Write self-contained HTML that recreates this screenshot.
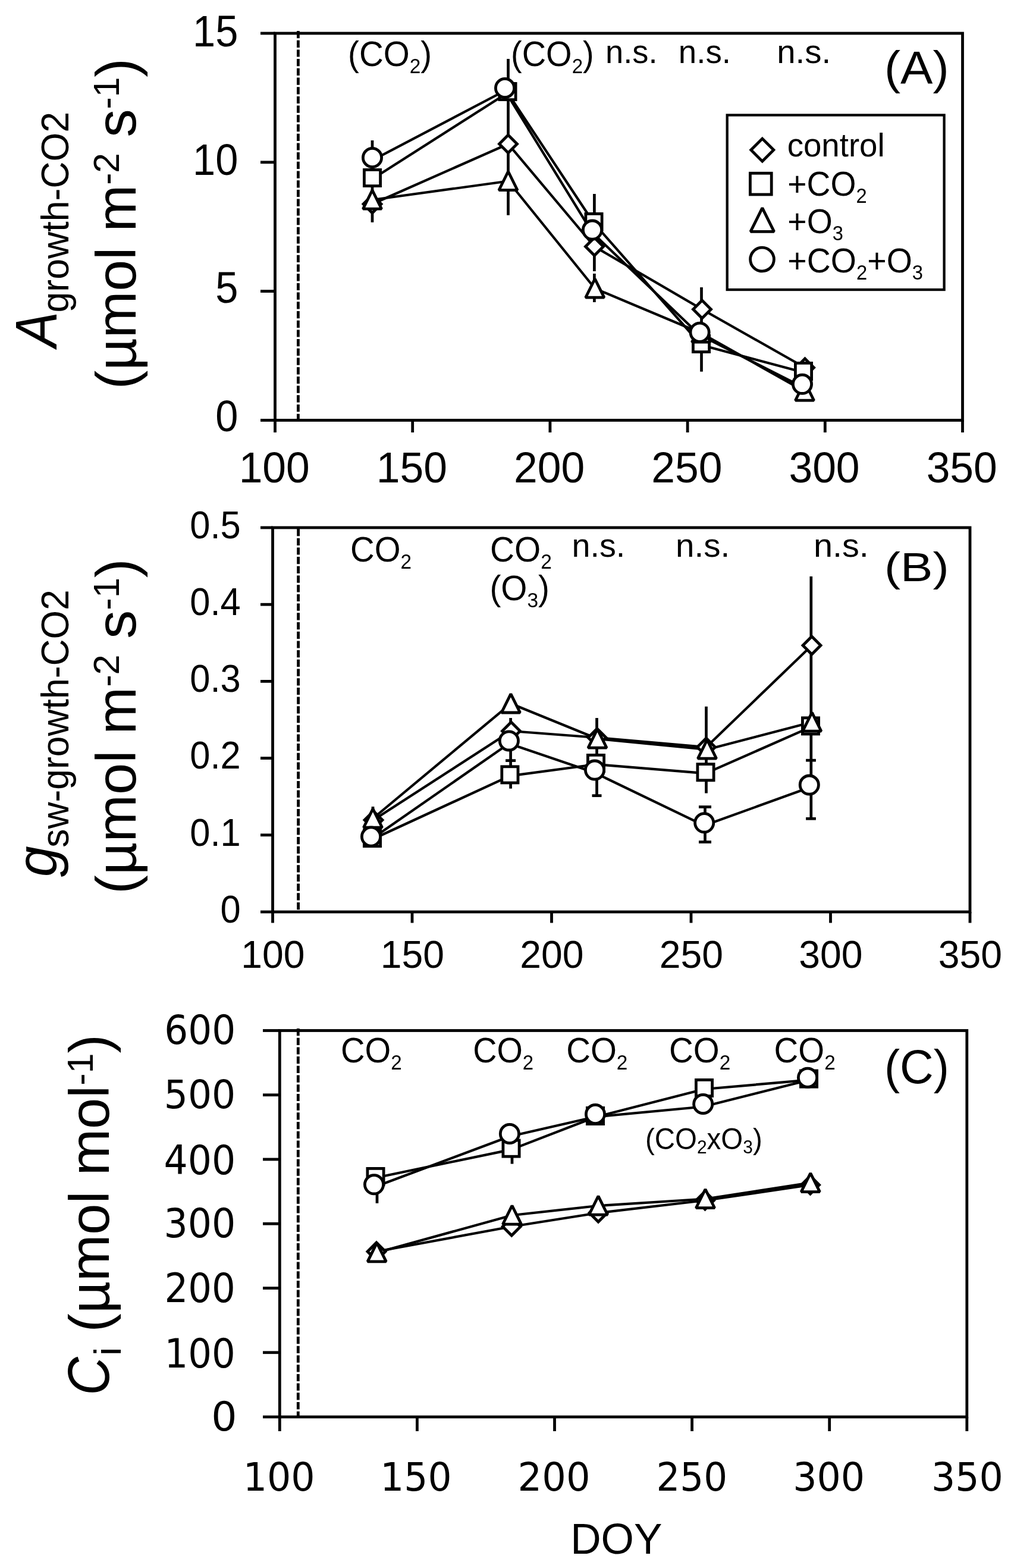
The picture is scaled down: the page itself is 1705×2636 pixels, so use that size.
<!DOCTYPE html>
<html><head><meta charset="utf-8"><title>Figure</title>
<style>
html,body{margin:0;padding:0;background:#fff;}
svg{display:block;}
text{font-family:"Liberation Sans",Arial,sans-serif;fill:#000;stroke:none;font-kerning:none;}
.m{fill:#fff;stroke:#000;}
</style></head><body>
<svg width="1705" height="2636" viewBox="0 0 1705 2636">
<rect width="1705" height="2636" fill="#fff"/>
<g stroke="#000" stroke-linecap="butt" fill="none">
<rect x="462.5" y="56" width="1156" height="650.5" fill="none" stroke-width="4.8"/>
<line x1="438" y1="56" x2="462.5" y2="56" stroke-width="4.8"/>
<line x1="438" y1="272.8" x2="462.5" y2="272.8" stroke-width="4.8"/>
<line x1="438" y1="489.6" x2="462.5" y2="489.6" stroke-width="4.8"/>
<line x1="438" y1="706.5" x2="462.5" y2="706.5" stroke-width="4.8"/>
<line x1="462.5" y1="706.5" x2="462.5" y2="727" stroke-width="4.8"/>
<line x1="693.7" y1="706.5" x2="693.7" y2="727" stroke-width="4.8"/>
<line x1="924.9" y1="706.5" x2="924.9" y2="727" stroke-width="4.8"/>
<line x1="1156.1" y1="706.5" x2="1156.1" y2="727" stroke-width="4.8"/>
<line x1="1387.3" y1="706.5" x2="1387.3" y2="727" stroke-width="4.8"/>
<line x1="1618.5" y1="706.5" x2="1618.5" y2="727" stroke-width="4.8"/>
<line x1="501.4" y1="52" x2="501.4" y2="706.5" stroke-width="4.8" stroke-dasharray="12.2 3.5"/>
<text transform="translate(324.09 78.2) scale(0.9360 1)" font-size="73.3">15</text>
<text transform="translate(324.09 293.9) scale(0.9360 1)" font-size="73.3">10</text>
<text transform="translate(362.24 509.2) scale(0.9360 1)" font-size="73.3">5</text>
<text transform="translate(362.24 725.3) scale(0.9360 1)" font-size="73.3">0</text>
<text transform="translate(401.64 811) scale(0.9780 1)" font-size="73">100</text>
<text transform="translate(632.84 811) scale(0.9780 1)" font-size="73">150</text>
<text transform="translate(864.04 811) scale(0.9780 1)" font-size="73">200</text>
<text transform="translate(1095.24 811) scale(0.9780 1)" font-size="73">250</text>
<text transform="translate(1326.44 811) scale(0.9780 1)" font-size="73">300</text>
<text transform="translate(1557.64 811) scale(0.9780 1)" font-size="73">350</text>
<text transform="translate(585.09 110.6) scale(0.9541 1)"><tspan font-size="59.3">(CO</tspan><tspan font-size="34.99" dy="12">2</tspan><tspan font-size="59.3" dy="-12">)</tspan></text>
<text transform="translate(859.03 110.6) scale(0.9442 1)"><tspan font-size="59.3">(CO</tspan><tspan font-size="34.99" dy="12">2</tspan><tspan font-size="59.3" dy="-12">)</tspan></text>
<text transform="translate(1017.99 106.05) scale(0.9664 1)" font-size="56.22">n.s.</text>
<text transform="translate(1140.87 106.05) scale(0.9725 1)" font-size="56.22">n.s.</text>
<text transform="translate(1306.26 106.05) scale(1.0031 1)" font-size="56.22">n.s.</text>
<text transform="translate(1486.94 141.2) scale(1.0456 1)"><tspan font-size="78">(A)</tspan></text>
<polyline points="626,343 854.5,242 999.5,414.5 1180.5,520 1353.5,618" fill="none" stroke-width="4.2" stroke-linejoin="round"/>
<polyline points="626,301 853.5,156 998.5,375 1179,580 1351,626" fill="none" stroke-width="4.2" stroke-linejoin="round"/>
<polyline points="626,336 854.5,304.5 1000.3,485 1179,560 1353,658" fill="none" stroke-width="4.2" stroke-linejoin="round"/>
<polyline points="626,269.5 849,152.5 996,391.1 1176.6,563.2 1349,650.3" fill="none" stroke-width="4.2" stroke-linejoin="round"/>
<line x1="626" y1="236" x2="626" y2="373.8" stroke-width="4.7"/>
<line x1="854.5" y1="99" x2="854.5" y2="361.8" stroke-width="4.7"/>
<line x1="999.4" y1="326" x2="999.4" y2="456" stroke-width="4.7"/>
<line x1="999.4" y1="460" x2="999.4" y2="508" stroke-width="4.7"/>
<line x1="1179.5" y1="482.9" x2="1179.5" y2="624.7" stroke-width="4.7"/>
<path d="M626 328L641 343L626 358L611 343Z" stroke-width="4.8" class="m"/>
<path d="M854.5 227L869.5 242L854.5 257L839.5 242Z" stroke-width="4.8" class="m"/>
<path d="M999.5 399.5L1014.5 414.5L999.5 429.5L984.5 414.5Z" stroke-width="4.8" class="m"/>
<path d="M1180.5 505L1195.5 520L1180.5 535L1165.5 520Z" stroke-width="4.8" class="m"/>
<path d="M1353.5 603L1368.5 618L1353.5 633L1338.5 618Z" stroke-width="4.8" class="m"/>
<rect x="612.4" y="285.4" width="27.2" height="27.2" stroke-width="4.8" class="m"/>
<rect x="839.9" y="140.4" width="27.2" height="27.2" stroke-width="4.8" class="m"/>
<rect x="984.9" y="359.4" width="27.2" height="27.2" stroke-width="4.8" class="m"/>
<rect x="1165.4" y="564.4" width="27.2" height="27.2" stroke-width="4.8" class="m"/>
<rect x="1337.4" y="610.4" width="27.2" height="27.2" stroke-width="4.8" class="m"/>
<path d="M626 319.8L641.6 351.2L610.4 351.2Z" stroke-width="4.8" stroke-linejoin="bevel" class="m"/>
<path d="M854.5 288.3L870.1 319.7L838.9 319.7Z" stroke-width="4.8" stroke-linejoin="bevel" class="m"/>
<path d="M1000.3 468.8L1015.9 500.2L984.7 500.2Z" stroke-width="4.8" stroke-linejoin="bevel" class="m"/>
<path d="M1179 543.8L1194.6 575.2L1163.4 575.2Z" stroke-width="4.8" stroke-linejoin="bevel" class="m"/>
<path d="M1353 641.8L1368.6 673.2L1337.4 673.2Z" stroke-width="4.8" stroke-linejoin="bevel" class="m"/>
<circle cx="626" cy="265" r="15.6" stroke-width="4.8" class="m"/>
<circle cx="849" cy="148" r="15.6" stroke-width="4.8" class="m"/>
<circle cx="996" cy="386.6" r="15.6" stroke-width="4.8" class="m"/>
<circle cx="1176.6" cy="558.7" r="15.6" stroke-width="4.8" class="m"/>
<circle cx="1349" cy="645.8" r="15.6" stroke-width="4.8" class="m"/>
<rect x="1222.7" y="193.5" width="364.9" height="293.5" fill="none" stroke-width="4.3"/>
<path d="M1281.8 233.1L1300.8 252.1L1281.8 271.1L1262.8 252.1Z" stroke-width="4.8" class="m"/>
<rect x="1261.4" y="291.2" width="35.8" height="35.8" stroke-width="4.8" class="m"/>
<path d="M1281.8 349.6L1301.6 389.4L1262 389.4Z" stroke-width="4.8" stroke-linejoin="bevel" class="m"/>
<circle cx="1281.5" cy="436" r="19.9" stroke-width="4.8" class="m"/>
<text transform="translate(1323.68 263.17) scale(1.0005 1)" font-size="54.6">control</text>
<text transform="translate(1324.3 328.8) scale(0.9531 1)"><tspan font-size="58">+CO</tspan><tspan font-size="34.22" dy="12">2</tspan></text>
<text transform="translate(1324.29 391.8) scale(0.9554 1)"><tspan font-size="58">+O</tspan><tspan font-size="34.22" dy="12">3</tspan></text>
<text transform="translate(1324.29 457.9) scale(0.9573 1)"><tspan font-size="58">+CO</tspan><tspan font-size="34.22" dy="12">2</tspan><tspan font-size="58" dy="-12">+O</tspan><tspan font-size="34.22" dy="12">3</tspan></text>
<text transform="translate(95.2 583.68) rotate(-90) scale(0.9074 1)"><tspan font-size="98.8" font-style="italic">A</tspan></text>
<text transform="translate(115.4 525.53) rotate(-90) scale(0.9567 1)"><tspan font-size="65.5">growth-CO2</tspan></text>
<text transform="translate(228 654.16) rotate(-90) scale(0.9953 1)"><tspan font-size="95">(µmol m</tspan><tspan font-size="60.8" dy="-27.6">-2</tspan><tspan font-size="95" dy="27.6"> s</tspan><tspan font-size="60.8" dy="-27.6">-1</tspan><tspan font-size="95" dy="27.6">)</tspan></text>
<rect x="458.5" y="887" width="1172.5" height="646" fill="none" stroke-width="4.8"/>
<line x1="438" y1="887" x2="458.5" y2="887" stroke-width="4.8"/>
<line x1="438" y1="1016.2" x2="458.5" y2="1016.2" stroke-width="4.8"/>
<line x1="438" y1="1145.4" x2="458.5" y2="1145.4" stroke-width="4.8"/>
<line x1="438" y1="1274.6" x2="458.5" y2="1274.6" stroke-width="4.8"/>
<line x1="438" y1="1403.8" x2="458.5" y2="1403.8" stroke-width="4.8"/>
<line x1="438" y1="1533" x2="458.5" y2="1533" stroke-width="4.8"/>
<line x1="458.5" y1="1533" x2="458.5" y2="1551.5" stroke-width="4.8"/>
<line x1="693" y1="1533" x2="693" y2="1551.5" stroke-width="4.8"/>
<line x1="927.5" y1="1533" x2="927.5" y2="1551.5" stroke-width="4.8"/>
<line x1="1162" y1="1533" x2="1162" y2="1551.5" stroke-width="4.8"/>
<line x1="1396.5" y1="1533" x2="1396.5" y2="1551.5" stroke-width="4.8"/>
<line x1="1631" y1="1533" x2="1631" y2="1551.5" stroke-width="4.8"/>
<line x1="501.6" y1="889" x2="501.6" y2="1533" stroke-width="4.8" stroke-dasharray="12.2 3.5"/>
<text transform="translate(319.2 904.7) scale(0.9610 1)" font-size="64">0.5</text>
<text transform="translate(319.2 1033.9) scale(0.9610 1)" font-size="64">0.4</text>
<text transform="translate(319.2 1163.1) scale(0.9610 1)" font-size="64">0.3</text>
<text transform="translate(319.2 1292.3) scale(0.9610 1)" font-size="64">0.2</text>
<text transform="translate(319.2 1421.5) scale(0.9610 1)" font-size="64">0.1</text>
<text transform="translate(370.49 1550.7) scale(0.9610 1)" font-size="64">0</text>
<text transform="translate(405.3 1626.6) scale(0.9870 1)" font-size="65.1">100</text>
<text transform="translate(639.8 1626.6) scale(0.9870 1)" font-size="65.1">150</text>
<text transform="translate(874.3 1626.6) scale(0.9870 1)" font-size="65.1">200</text>
<text transform="translate(1108.8 1626.6) scale(0.9870 1)" font-size="65.1">250</text>
<text transform="translate(1343.3 1626.6) scale(0.9870 1)" font-size="65.1">300</text>
<text transform="translate(1577.8 1626.6) scale(0.9870 1)" font-size="65.1">350</text>
<text transform="translate(588.94 944.3) scale(0.9504 1)"><tspan font-size="59.3">CO</tspan><tspan font-size="34.99" dy="12">2</tspan></text>
<text transform="translate(824.01 944.3) scale(0.9582 1)"><tspan font-size="59.3">CO</tspan><tspan font-size="34.99" dy="12">2</tspan></text>
<text transform="translate(823.38 1008.6) scale(0.9568 1)"><tspan font-size="59.3">(O</tspan><tspan font-size="34.99" dy="12">3</tspan><tspan font-size="59.3" dy="-12">)</tspan></text>
<text transform="translate(961.5 935.56) scale(1.0072 1)" font-size="55.31">n.s.</text>
<text transform="translate(1135.94 935.56) scale(1.0234 1)" font-size="55.31">n.s.</text>
<text transform="translate(1367.97 935.56) scale(1.0420 1)" font-size="55.31">n.s.</text>
<text transform="translate(1486.94 976.8) scale(1.1994 1)"><tspan font-size="68">(B)</tspan></text>
<polyline points="628,1378.6 859.5,1229 1004,1240 1187.5,1256 1365,1085" fill="none" stroke-width="4.2" stroke-linejoin="round"/>
<polyline points="626,1411 857.4,1304.4 1002,1285 1186.5,1300.2 1363,1222.4" fill="none" stroke-width="4.2" stroke-linejoin="round"/>
<polyline points="627,1376 858.9,1182.8 1004.5,1242 1189,1260 1365.3,1214" fill="none" stroke-width="4.2" stroke-linejoin="round"/>
<polyline points="624,1411 855.9,1249.9 1000,1299.1 1184.2,1387.8 1360.8,1324.1" fill="none" stroke-width="4.2" stroke-linejoin="round"/>
<line x1="627" y1="1356" x2="627" y2="1380" stroke-width="4.7"/>
<line x1="858.6" y1="1207" x2="858.6" y2="1325.7" stroke-width="4.7"/>
<line x1="1003.5" y1="1206.9" x2="1003.5" y2="1337.6" stroke-width="4.7"/>
<line x1="1187.5" y1="1187.8" x2="1187.5" y2="1333.6" stroke-width="4.7"/>
<line x1="1185.5" y1="1356.5" x2="1185.5" y2="1415.5" stroke-width="4.7"/>
<line x1="1363.8" y1="969" x2="1363.8" y2="1376.3" stroke-width="4.7"/>
<line x1="850.1" y1="1278.6" x2="867.1" y2="1278.6" stroke-width="4.7"/>
<line x1="995.5" y1="1337.6" x2="1011.5" y2="1337.6" stroke-width="4.7"/>
<line x1="1175" y1="1356.5" x2="1196" y2="1356.5" stroke-width="4.7"/>
<line x1="1175" y1="1415.5" x2="1196" y2="1415.5" stroke-width="4.7"/>
<line x1="1355.1" y1="1278.2" x2="1371.9" y2="1278.2" stroke-width="4.7"/>
<line x1="1355.1" y1="1376.3" x2="1371.9" y2="1376.3" stroke-width="4.7"/>
<path d="M628 1363.6L643 1378.6L628 1393.6L613 1378.6Z" stroke-width="4.8" class="m"/>
<path d="M859.5 1214L874.5 1229L859.5 1244L844.5 1229Z" stroke-width="4.8" class="m"/>
<path d="M1004 1225L1019 1240L1004 1255L989 1240Z" stroke-width="4.8" class="m"/>
<path d="M1187.5 1241L1202.5 1256L1187.5 1271L1172.5 1256Z" stroke-width="4.8" class="m"/>
<path d="M1365 1070L1380 1085L1365 1100L1350 1085Z" stroke-width="4.8" class="m"/>
<rect x="612.4" y="1395.4" width="27.2" height="27.2" stroke-width="4.8" class="m"/>
<rect x="843.8" y="1288.8" width="27.2" height="27.2" stroke-width="4.8" class="m"/>
<rect x="988.4" y="1269.4" width="27.2" height="27.2" stroke-width="4.8" class="m"/>
<rect x="1172.9" y="1284.6" width="27.2" height="27.2" stroke-width="4.8" class="m"/>
<rect x="1349.4" y="1206.8" width="27.2" height="27.2" stroke-width="4.8" class="m"/>
<path d="M627 1359.8L642.6 1391.2L611.4 1391.2Z" stroke-width="4.8" stroke-linejoin="bevel" class="m"/>
<path d="M858.9 1166.6L874.5 1198L843.3 1198Z" stroke-width="4.8" stroke-linejoin="bevel" class="m"/>
<path d="M1004.5 1225.8L1020.1 1257.2L988.9 1257.2Z" stroke-width="4.8" stroke-linejoin="bevel" class="m"/>
<path d="M1189 1243.8L1204.6 1275.2L1173.4 1275.2Z" stroke-width="4.8" stroke-linejoin="bevel" class="m"/>
<path d="M1365.3 1197.8L1380.9 1229.2L1349.7 1229.2Z" stroke-width="4.8" stroke-linejoin="bevel" class="m"/>
<circle cx="624" cy="1406.5" r="15.6" stroke-width="4.8" class="m"/>
<circle cx="855.9" cy="1245.4" r="15.6" stroke-width="4.8" class="m"/>
<circle cx="1000" cy="1294.6" r="15.6" stroke-width="4.8" class="m"/>
<circle cx="1184.2" cy="1383.3" r="15.6" stroke-width="4.8" class="m"/>
<circle cx="1360.8" cy="1319.6" r="15.6" stroke-width="4.8" class="m"/>
<text transform="translate(95.2 1474.18) rotate(-90) scale(0.9771 1)"><tspan font-size="95.7" font-style="italic">g</tspan></text>
<text transform="translate(115.4 1424.74) rotate(-90) scale(0.9530 1)"><tspan font-size="65.5">sw-growth-CO2</tspan></text>
<text transform="translate(228 1502.94) rotate(-90) scale(1.0091 1)"><tspan font-size="95">(µmol m</tspan><tspan font-size="60.8" dy="-27.6">-2</tspan><tspan font-size="95" dy="27.6"> s</tspan><tspan font-size="60.8" dy="-27.6">-1</tspan><tspan font-size="95" dy="27.6">)</tspan></text>
<rect x="470.3" y="1732.5" width="1155.5" height="649.5" fill="none" stroke-width="4.8"/>
<line x1="442" y1="1732.5" x2="470.3" y2="1732.5" stroke-width="4.8"/>
<line x1="442" y1="1840.75" x2="470.3" y2="1840.75" stroke-width="4.8"/>
<line x1="442" y1="1949" x2="470.3" y2="1949" stroke-width="4.8"/>
<line x1="442" y1="2057.25" x2="470.3" y2="2057.25" stroke-width="4.8"/>
<line x1="442" y1="2165.5" x2="470.3" y2="2165.5" stroke-width="4.8"/>
<line x1="442" y1="2273.75" x2="470.3" y2="2273.75" stroke-width="4.8"/>
<line x1="442" y1="2382" x2="470.3" y2="2382" stroke-width="4.8"/>
<line x1="470.3" y1="2382" x2="470.3" y2="2406" stroke-width="4.8"/>
<line x1="701.4" y1="2382" x2="701.4" y2="2406" stroke-width="4.8"/>
<line x1="932.5" y1="2382" x2="932.5" y2="2406" stroke-width="4.8"/>
<line x1="1163.6" y1="2382" x2="1163.6" y2="2406" stroke-width="4.8"/>
<line x1="1394.7" y1="2382" x2="1394.7" y2="2406" stroke-width="4.8"/>
<line x1="1625.8" y1="2382" x2="1625.8" y2="2406" stroke-width="4.8"/>
<line x1="501.3" y1="1729" x2="501.3" y2="2382" stroke-width="4.8" stroke-dasharray="12.2 3.5"/>
<text transform="translate(276.31 1754.75) scale(0.9376 1)" font-size="67.03" style="font-family:'DejaVu Sans',sans-serif">600</text>
<text transform="translate(275.83 1863.36) scale(0.9547 1)" font-size="66.11" style="font-family:'DejaVu Sans',sans-serif">500</text>
<text transform="translate(275.61 1973.75) scale(0.9433 1)" font-size="67.03" style="font-family:'DejaVu Sans',sans-serif">400</text>
<text transform="translate(275.48 2080.44) scale(0.9315 1)" font-size="67.96" style="font-family:'DejaVu Sans',sans-serif">300</text>
<text transform="translate(276.42 2188.75) scale(0.9354 1)" font-size="66.9" style="font-family:'DejaVu Sans',sans-serif">200</text>
<text transform="translate(276.53 2298.65) scale(0.9344 1)" font-size="66.9" style="font-family:'DejaVu Sans',sans-serif">100</text>
<text transform="translate(355.21 2404.65) scale(1.0154 1)" font-size="67.03" style="font-family:'DejaVu Sans',sans-serif">0</text>
<text transform="translate(408.63 2506.07) scale(0.9654 1)" font-size="65.71" style="font-family:'DejaVu Sans',sans-serif">100</text>
<text transform="translate(639.28 2506.07) scale(0.9584 1)" font-size="65.71" style="font-family:'DejaVu Sans',sans-serif">150</text>
<text transform="translate(870.62 2506.07) scale(0.9721 1)" font-size="65.71" style="font-family:'DejaVu Sans',sans-serif">200</text>
<text transform="translate(1103.41 2506.07) scale(0.9540 1)" font-size="65.71" style="font-family:'DejaVu Sans',sans-serif">250</text>
<text transform="translate(1333.17 2506.07) scale(0.9651 1)" font-size="65.71" style="font-family:'DejaVu Sans',sans-serif">300</text>
<text transform="translate(1565.88 2506.07) scale(0.9634 1)" font-size="65.71" style="font-family:'DejaVu Sans',sans-serif">350</text>
<text transform="translate(959.16 2612.39) scale(0.9808 1)" font-size="72.6">DOY</text>
<text transform="translate(573.05 1786.2) scale(0.9475 1)"><tspan font-size="59.3">CO</tspan><tspan font-size="34.99" dy="11.7">2</tspan></text>
<text transform="translate(795.17 1786.2) scale(0.9408 1)"><tspan font-size="59.3">CO</tspan><tspan font-size="34.99" dy="11.7">2</tspan></text>
<text transform="translate(952.13 1786.2) scale(0.9524 1)"><tspan font-size="59.3">CO</tspan><tspan font-size="34.99" dy="11.7">2</tspan></text>
<text transform="translate(1124.93 1786.2) scale(0.9524 1)"><tspan font-size="59.3">CO</tspan><tspan font-size="34.99" dy="11.7">2</tspan></text>
<text transform="translate(1301.54 1786.2) scale(0.9514 1)"><tspan font-size="59.3">CO</tspan><tspan font-size="34.99" dy="11.7">2</tspan></text>
<text transform="translate(1084.96 1931.5) scale(0.9496 1)"><tspan font-size="50">(CO</tspan><tspan font-size="31.5" dy="7.3">2</tspan><tspan font-size="50" dy="-7.3">xO</tspan><tspan font-size="31.5" dy="7.3">3</tspan><tspan font-size="50" dy="-7.3">)</tspan></text>
<text transform="translate(1486.93 1821) scale(0.9809 1)"><tspan font-size="80">(C)</tspan></text>
<polyline points="633,2104 860.3,2062 1006,2039 1185.5,2018 1362.5,1992" fill="none" stroke-width="4.2" stroke-linejoin="round"/>
<polyline points="631.5,1980 859.5,1932.6 1001,1878 1184,1831 1360,1815.6" fill="none" stroke-width="4.2" stroke-linejoin="round"/>
<polyline points="633.7,2105.7 861,2043 1006,2027 1186,2015.5 1362.8,1988.4" fill="none" stroke-width="4.2" stroke-linejoin="round"/>
<polyline points="629,1995.8 856.9,1910.5 1001,1877.5 1182.2,1860.5 1358,1816.2" fill="none" stroke-width="4.2" stroke-linejoin="round"/>
<line x1="634" y1="1978" x2="634" y2="2022.8" stroke-width="4.7"/>
<line x1="861" y1="1929.5" x2="861" y2="1956.6" stroke-width="4.7"/>
<path d="M633 2089L648 2104L633 2119L618 2104Z" stroke-width="4.8" class="m"/>
<path d="M860.3 2047L875.3 2062L860.3 2077L845.3 2062Z" stroke-width="4.8" class="m"/>
<path d="M1006 2024L1021 2039L1006 2054L991 2039Z" stroke-width="4.8" class="m"/>
<path d="M1185.5 2003L1200.5 2018L1185.5 2033L1170.5 2018Z" stroke-width="4.8" class="m"/>
<path d="M1362.5 1977L1377.5 1992L1362.5 2007L1347.5 1992Z" stroke-width="4.8" class="m"/>
<rect x="617.9" y="1964.4" width="27.2" height="27.2" stroke-width="4.8" class="m"/>
<rect x="845.9" y="1917" width="27.2" height="27.2" stroke-width="4.8" class="m"/>
<rect x="987.4" y="1862.4" width="27.2" height="27.2" stroke-width="4.8" class="m"/>
<rect x="1170.4" y="1815.4" width="27.2" height="27.2" stroke-width="4.8" class="m"/>
<rect x="1346.4" y="1800" width="27.2" height="27.2" stroke-width="4.8" class="m"/>
<path d="M633.7 2089.5L649.3 2120.9L618.1 2120.9Z" stroke-width="4.8" stroke-linejoin="bevel" class="m"/>
<path d="M861 2026.8L876.6 2058.2L845.4 2058.2Z" stroke-width="4.8" stroke-linejoin="bevel" class="m"/>
<path d="M1006 2010.8L1021.6 2042.2L990.4 2042.2Z" stroke-width="4.8" stroke-linejoin="bevel" class="m"/>
<path d="M1186 1999.3L1201.6 2030.7L1170.4 2030.7Z" stroke-width="4.8" stroke-linejoin="bevel" class="m"/>
<path d="M1362.8 1972.2L1378.4 2003.6L1347.2 2003.6Z" stroke-width="4.8" stroke-linejoin="bevel" class="m"/>
<circle cx="629" cy="1991.3" r="15.6" stroke-width="4.8" class="m"/>
<circle cx="856.9" cy="1906" r="15.6" stroke-width="4.8" class="m"/>
<circle cx="1001" cy="1873" r="15.6" stroke-width="4.8" class="m"/>
<circle cx="1182.2" cy="1856" r="15.6" stroke-width="4.8" class="m"/>
<circle cx="1358" cy="1811.7" r="15.6" stroke-width="4.8" class="m"/>
<text transform="translate(183 2345.82) rotate(-90) scale(0.9106 1)"><tspan font-size="98" font-style="italic">C</tspan></text>
<text transform="translate(203 2279.21) rotate(-90) scale(1.0644 1)"><tspan font-size="62">i</tspan></text>
<text transform="translate(182.8 2239.43) rotate(-90) scale(0.9897 1)"><tspan font-size="95">(µmol mol</tspan><tspan font-size="61.75" dy="-27">-1</tspan><tspan font-size="95" dy="27">)</tspan></text>
</g>
</svg>
</body></html>
